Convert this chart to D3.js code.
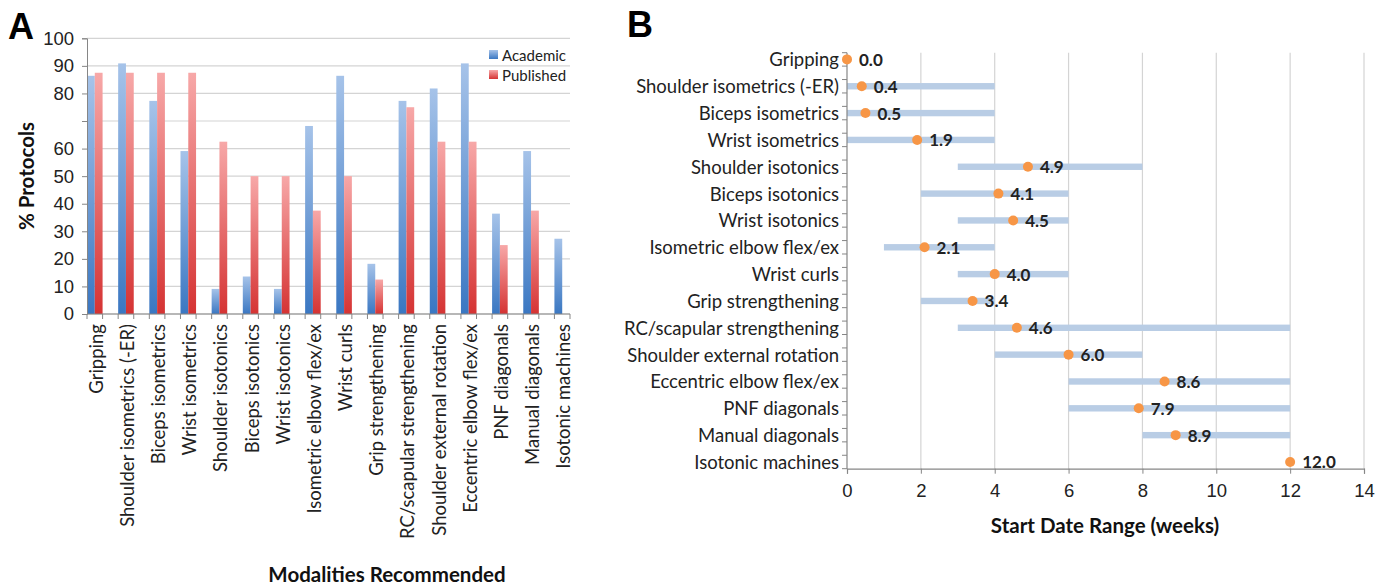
<!DOCTYPE html>
<html lang="en">
<head>
  <meta charset="UTF-8" />
  <title>Modalities recommended and start dates</title>
  <script src="https://d3js.org/d3.v7.min.js"></script>
  <style>
    body { margin: 0; background: #fff; }
    svg { font-family: Lato, "Open Sans", sans-serif; }
    .tick-label { font-size: 18.5px; fill: #222; }
    .title { font-size: 20.5px; font-weight: bold; fill: #111; }
    .panel { font-family: "Liberation Sans", Arial, sans-serif; font-size: 36px; font-weight: bold; }
  </style>
</head>
<body>
  <svg width="1389" height="586"></svg>
  <script>
    // ---- data ----
    const modalities = ["Gripping", "Shoulder isometrics (-ER)", "Biceps isometrics", "Wrist isometrics",
      "Shoulder isotonics", "Biceps isotonics", "Wrist isotonics", "Isometric elbow flex/ex", "Wrist curls",
      "Grip strengthening", "RC/scapular strengthening", "Shoulder external rotation", "Eccentric elbow flex/ex",
      "PNF diagonals", "Manual diagonals", "Isotonic machines"];
    const series = ["Academic", "Published"];
    const academic = [86.4, 90.9, 77.3, 59.1, 9.1, 13.6, 9.1, 68.2, 86.4, 18.2, 77.3, 81.8, 90.9, 36.4, 59.1, 27.3];
    const published = [87.5, 87.5, 87.5, 87.5, 62.5, 50, 50, 37.5, 50, 12.5, 75, 62.5, 62.5, 25, 37.5, 0];
    const yTicksA = [0, 10, 20, 30, 40, 50, 60, 80, 90, 100];   // 70 is not labelled in the original
    const gridA = [0, 10, 20, 30, 40, 50, 60, 70, 80, 90, 100];

    const rangeStart = [0, 0, 0, 0, 3, 2, 3, 1, 3, 2, 3, 4, 6, 6, 8, 12];
    const rangeEnd   = [0, 4, 4, 4, 8, 6, 6, 4, 6, 4, 12, 8, 12, 12, 12, 12];
    const meanStart  = [0.0, 0.4, 0.5, 1.9, 4.9, 4.1, 4.5, 2.1, 4.0, 3.4, 4.6, 6.0, 8.6, 7.9, 8.9, 12.0];
    const xTicksB = [0, 2, 4, 6, 8, 10, 12, 14];

    const svg = d3.select("svg");
    const defs = svg.append("defs");
    function grad(id, top, bottom) {
      const g = defs.append("linearGradient").attr("id", id)
        .attr("x1", 0).attr("y1", 0).attr("x2", 0).attr("y2", 1);
      g.append("stop").attr("offset", "0%").attr("stop-color", top);
      g.append("stop").attr("offset", "100%").attr("stop-color", bottom);
    }
    grad("gAcad", "#a6c3e9", "#3a77c2");
    grad("gPub", "#f7a8a8", "#d53333");
    const fills = { Academic: "url(#gAcad)", Published: "url(#gPub)" };

    // ================= Panel A =================
    const a = { left: 87, right: 570, top: 38.3, bottom: 314 };
    const slots = 2 * modalities.length - 1;        // empty slot between categories
    const slotW = (a.right - a.left) / slots;
    const x0 = d3.scaleBand().domain(modalities)
      .range([a.left, a.left + 2 * slotW * modalities.length]).paddingInner(0).paddingOuter(0);
    const x1 = d3.scaleBand().domain(series).range([0, slotW]);
    const yA = d3.scaleLinear().domain([0, 100]).range([a.bottom, a.top]);

    const gA = svg.append("g");
    gA.selectAll("line.grid").data(gridA).enter().append("line")
      .attr("x1", a.left).attr("x2", a.right)
      .attr("y1", d => yA(d)).attr("y2", d => yA(d))
      .attr("stroke", "#d4d4d4").attr("stroke-width", 1.2);

    const rows = modalities.map((m, i) => ({ m, Academic: academic[i], Published: published[i] }));
    gA.selectAll("g.cat").data(rows).enter().append("g")
      .attr("transform", d => `translate(${x0(d.m)},0)`)
      .selectAll("rect").data(d => series.map(s => ({ s, v: d[s] }))).enter().append("rect")
      .attr("x", d => x1(d.s)).attr("width", x1.bandwidth())
      .attr("y", d => yA(d.v)).attr("height", d => yA(0) - yA(d.v))
      .attr("fill", d => fills[d.s]);

    // y axis
    const yAxisA = d3.axisLeft(yA).tickValues(gridA).tickSize(5)
      .tickFormat(d => yTicksA.includes(d) ? d : "");
    const yg = gA.append("g").attr("transform", `translate(${a.left},0)`).call(yAxisA);
    yg.select(".domain").attr("stroke", "#868686");
    yg.selectAll(".tick line").attr("stroke", "#868686");
    yg.selectAll(".tick text").attr("class", "tick-label").attr("x", -13).style("font-family", null);

    // x axis
    gA.append("line").attr("x1", a.left).attr("x2", a.right).attr("y1", a.bottom).attr("y2", a.bottom)
      .attr("stroke", "#868686").attr("stroke-width", 1.2);
    gA.selectAll("line.xt").data(d3.range(slots + 1)).enter().append("line")
      .attr("x1", d => a.left + d * slotW).attr("x2", d => a.left + d * slotW)
      .attr("y1", a.bottom).attr("y2", a.bottom + 5).attr("stroke", "#868686");
    gA.selectAll("text.xl").data(modalities).enter().append("text")
      .attr("class", "tick-label")
      .attr("transform", d => `translate(${x0(d) + slotW / 2 + 1},324) rotate(-90)`)
      .attr("text-anchor", "end").attr("dominant-baseline", "central")
      .text(d => d);

    // legend
    const leg = gA.append("g").attr("transform", "translate(489,50)");
    series.forEach((s, i) => {
      leg.append("rect").attr("x", 0).attr("y", i * 20).attr("width", 9).attr("height", 9).attr("fill", fills[s]);
      leg.append("text").attr("class", "tick-label").attr("x", 13).attr("y", i * 20 + 5)
        .attr("dominant-baseline", "central").style("font-size", "15px").text(s);
    });

    gA.append("text").attr("class", "title")
      .attr("transform", "translate(26,176) rotate(-90)")
      .attr("text-anchor", "middle").attr("dominant-baseline", "central").text("% Protocols");
    gA.append("text").attr("class", "title").attr("x", 387).attr("y", 574)
      .attr("text-anchor", "middle").attr("dominant-baseline", "central").text("Modalities Recommended");
    gA.append("text").attr("class", "panel").attr("x", 8).attr("y", 39).text("A");

    // ================= Panel B =================
    const b = { left: 847, right: 1364, top: 52.7, bottom: 468.7 };
    const xB = d3.scaleLinear().domain([0, 14]).range([b.left, b.right]);
    const slotH = (b.bottom - b.top) / slots;
    const yB = d3.scaleBand().domain(modalities)
      .range([b.top, b.top + 2 * slotH * modalities.length]).paddingInner(0).paddingOuter(0);
    const cy = m => yB(m) + slotH / 2;

    const gB = svg.append("g");
    gB.selectAll("line.grid").data(xTicksB.filter(d => d > 0)).enter().append("line")
      .attr("x1", d => xB(d)).attr("x2", d => xB(d))
      .attr("y1", b.top).attr("y2", b.bottom)
      .attr("stroke", "#d4d4d4").attr("stroke-width", 1.2);

    const itemsB = modalities.map((m, i) => ({ m, s: rangeStart[i], e: rangeEnd[i], v: meanStart[i] }));
    gB.selectAll("rect.range").data(itemsB.filter(d => d.e > d.s)).enter().append("rect")
      .attr("x", d => xB(d.s)).attr("width", d => xB(d.e) - xB(d.s))
      .attr("y", d => cy(d.m) - 3.2).attr("height", 6.4)
      .attr("fill", "#b9cde5");

    // axes
    gB.append("line").attr("x1", b.left).attr("x2", b.left).attr("y1", b.top).attr("y2", b.bottom)
      .attr("stroke", "#868686").attr("stroke-width", 1.2);
    gB.selectAll("line.yt").data(d3.range(slots + 1)).enter().append("line")
      .attr("x1", b.left - 5).attr("x2", b.left)
      .attr("y1", d => b.top + d * slotH).attr("y2", d => b.top + d * slotH).attr("stroke", "#868686");
    gB.selectAll("text.yl").data(modalities).enter().append("text")
      .attr("class", "tick-label").attr("x", 839).attr("y", d => cy(d))
      .attr("text-anchor", "end").attr("dominant-baseline", "central").text(d => d);

    const xg = gB.append("g").attr("transform", `translate(0,${b.bottom})`)
      .call(d3.axisBottom(xB).tickValues(xTicksB).tickSize(5).tickPadding(10));
    xg.select(".domain").attr("stroke", "#868686").attr("stroke-width", 1.2);
    xg.selectAll(".tick line").attr("stroke", "#868686");
    xg.selectAll(".tick text").attr("class", "tick-label").style("font-family", null);

    // mean start dots + labels
    gB.selectAll("circle.dot").data(itemsB).enter().append("circle")
      .attr("cx", d => xB(d.v)).attr("cy", d => cy(d.m)).attr("r", 5)
      .attr("fill", "#f79646");
    gB.selectAll("text.val").data(itemsB).enter().append("text")
      .attr("x", d => xB(d.v) + 12).attr("y", d => cy(d.m))
      .attr("dominant-baseline", "central")
      .style("font-size", "17px").style("font-weight", "bold").attr("fill", "#222")
      .text(d => d3.format(".1f")(d.v));

    gB.append("text").attr("class", "title").attr("x", 1105).attr("y", 525)
      .attr("text-anchor", "middle").attr("dominant-baseline", "central").text("Start Date Range (weeks)");
    gB.append("text").attr("class", "panel").attr("x", 627).attr("y", 37).text("B");
  </script>
</body>
</html>
